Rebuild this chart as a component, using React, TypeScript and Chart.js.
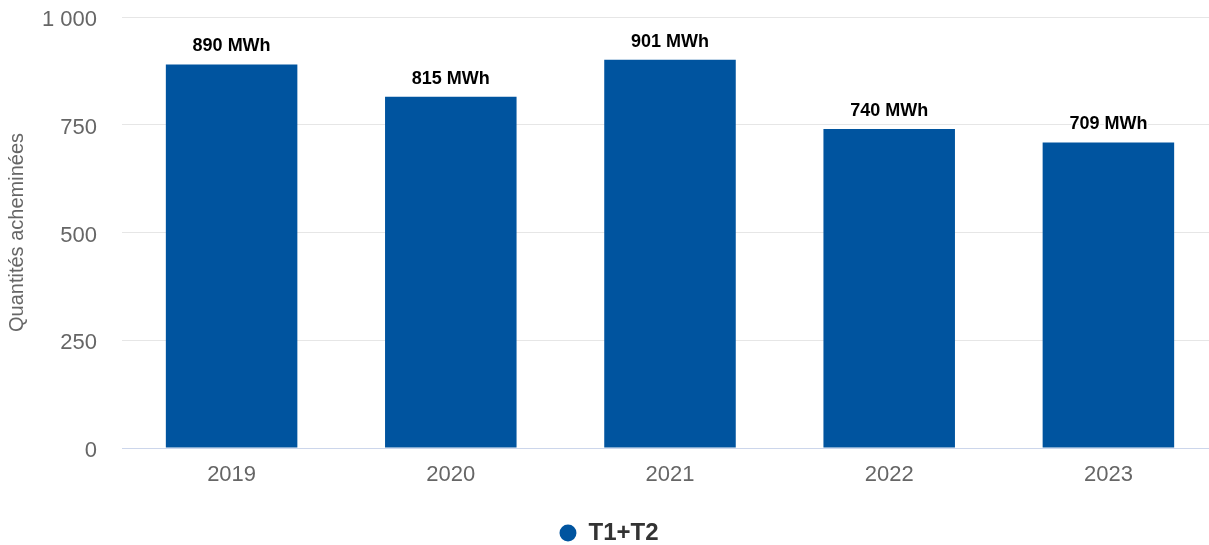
import React, { useEffect, useRef } from "react";
import { Chart, registerables } from "chart.js";

Chart.register(...registerables);

const categories = ["2019", "2020", "2021", "2022", "2023"];
const values = [890, 815, 901, 740, 709];
const seriesName = "T1+T2";
const unit = "MWh";
const yTitle = "Quantités acheminées";
const yMin = 0;
const yMax = 1000;
const yStep = 250;

const FONT = "'Liberation Sans', Arial, Helvetica, sans-serif";
const BAR_COLOR = "#00549f";

const fmt = (v: number) => {
  const s = Math.round(v).toString();
  return s.replace(/\B(?=(\d{3})+(?!\d))/g, " ");
};

const dataLabelPlugin = {
  id: "dataLabels",
  afterDatasetsDraw(chart: any) {
    const ctx = chart.ctx;
    const meta = chart.getDatasetMeta(0);
    ctx.save();
    ctx.font = `bold 18px ${FONT}`;
    ctx.textAlign = "center";
    ctx.textBaseline = "middle";
    ctx.lineJoin = "round";
    meta.data.forEach((el: any, i: number) => {
      const txt = `${fmt(values[i])} ${unit}`;
      const x = el.x;
      const y = el.y - 18;
      ctx.lineWidth = 3;
      ctx.strokeStyle = "#ffffff";
      ctx.strokeText(txt, x, y);
      ctx.fillStyle = "#000000";
      ctx.fillText(txt, x, y);
    });
    ctx.restore();
  },
};

export default function App() {
  const ref = useRef<HTMLCanvasElement | null>(null);

  useEffect(() => {
    if (!ref.current) return;
    const chart = new Chart(ref.current, {
      type: "bar",
      data: {
        labels: categories,
        datasets: [
          {
            label: seriesName,
            data: values,
            backgroundColor: BAR_COLOR,
            borderWidth: 0,
            barPercentage: 0.6,
            categoryPercentage: 1,
          },
        ],
      },
      options: {
        responsive: false,
        animation: false,
        layout: { padding: { top: 17, right: 4, left: 0, bottom: 0 } },
        plugins: {
          tooltip: { enabled: false },
          legend: {
            position: "bottom",
            labels: {
              usePointStyle: true,
              pointStyle: "circle",
              boxWidth: 17,
              boxHeight: 12,
              padding: 10,
              color: "#333333",
              font: { family: FONT, size: 24, weight: "bold" },
            },
          },
        },
        scales: {
          x: {
            grid: { display: false, drawTicks: false },
            border: { display: true, color: "#ccd6eb", width: 1 },
            ticks: {
              color: "#666666",
              padding: 14,
              font: { family: FONT, size: 22 },
              maxRotation: 0,
            },
            afterFit: (scale: any) => {
              scale.height = 63;
              scale.paddingLeft = 0;
              scale.paddingRight = 0;
            },
          },
          y: {
            min: yMin,
            max: yMax,
            border: { display: false },
            grid: {
              drawTicks: false,
              color: (c: any) =>
                c.tick && c.tick.value === 0 ? "#ccd6eb" : "#e6e6e6",
              lineWidth: 1,
            },
            ticks: {
              stepSize: yStep,
              color: "#666666",
              padding: 25,
              labelOffset: 3,
              font: { family: FONT, size: 22 },
              callback: (v: any) => fmt(Number(v)),
            },
            title: {
              display: true,
              text: yTitle,
              color: "#666666",
              font: { family: FONT, size: 20 },
              padding: { top: 5, bottom: 0 },
            },
            afterFit: (scale: any) => {
              scale.width = 122;
              scale.paddingTop = 0;
              scale.paddingBottom = 0;
            },
          },
        },
      },
      plugins: [dataLabelPlugin],
    });
    return () => chart.destroy();
  }, []);

  return (
    <div
      style={{
        position: "fixed",
        left: 0,
        top: 0,
        width: 1209,
        height: 545,
        overflow: "hidden",
        background: "#ffffff",
      }}
    >
      <canvas
        ref={ref}
        width={1222}
        height={555}
        style={{ display: "block", width: 1222, height: 555 }}
      />
    </div>
  );
}
